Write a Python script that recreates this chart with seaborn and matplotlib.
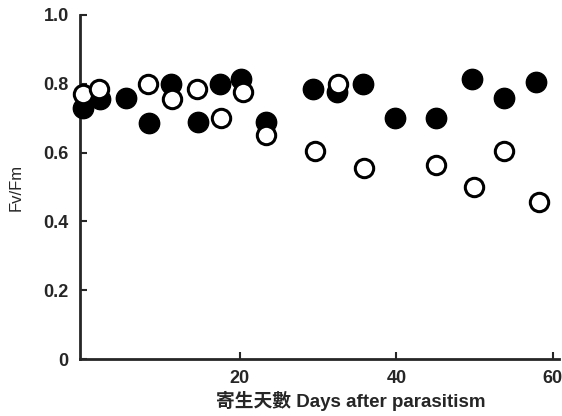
import matplotlib
matplotlib.use("Agg")
import numpy as np
import pandas as pd
import matplotlib.pyplot as plt
import seaborn as sns

# Filled circles
filled_days = [0.0, 2.1, 5.4, 8.4, 11.2, 14.6, 17.4, 20.2, 23.4, 29.4, 32.4, 35.7,
               39.8, 45.0, 49.7, 53.7, 57.9]
filled_fvfm = [0.73, 0.755, 0.76, 0.685, 0.80, 0.69, 0.80, 0.815, 0.69, 0.785, 0.775,
               0.80, 0.70, 0.70, 0.815, 0.76, 0.805]

# Open circles
open_days = [0.0, 2.0, 8.2, 11.3, 14.5, 17.6, 20.4, 23.4, 29.6, 32.5, 35.8, 45.0,
             49.9, 53.7, 58.2]
open_fvfm = [0.77, 0.785, 0.80, 0.755, 0.785, 0.70, 0.775, 0.65, 0.605, 0.80, 0.555,
             0.565, 0.50, 0.605, 0.455]

y_ticks = [0, 0.2, 0.4, 0.6, 0.8, 1.0]
y_ticklabels = ["0", "0.2", "0.4", "0.6", "0.8", "1.0"]
x_ticks = [20, 40, 60]

sns.set_style("ticks")
plt.rcParams["font.family"] = ["Liberation Sans", "Noto Sans CJK TC"]

fig = plt.figure(figsize=(5.62, 4.16), dpi=100)
ax = fig.add_axes([0.142, 0.137, 0.853, 0.827])

filled_df = pd.DataFrame({"day": filled_days, "fvfm": filled_fvfm})
open_df = pd.DataFrame({"day": open_days, "fvfm": open_fvfm})

sns.scatterplot(data=filled_df, x="day", y="fvfm", ax=ax, s=215, color="black",
                edgecolor="black", linewidth=1, zorder=3, clip_on=False)
sns.scatterplot(data=open_df, x="day", y="fvfm", ax=ax, s=175, color="white",
                edgecolor="black", linewidth=2.2, zorder=4, clip_on=False)

ax.set_xlim(-0.45, 60.8)
ax.set_ylim(0, 1.0)
ax.set_xticks(x_ticks)
ax.set_yticks(y_ticks)
ax.set_yticklabels(y_ticklabels)

for lab in ax.get_xticklabels() + ax.get_yticklabels():
    lab.set_fontweight("bold")
    lab.set_fontsize(13)

ax.tick_params(direction="in", length=5, width=1.5, pad=8)
sns.despine(ax=ax)
for side in ["left", "bottom"]:
    ax.spines[side].set_linewidth(2)

ax.set_xlabel("寄生天數 Days after parasitism", fontsize=13.5, fontweight="bold")
ax.xaxis.set_label_coords(0.566, -0.093)
ax.set_ylabel("Fv/Fm", fontsize=12, labelpad=14)

fig.savefig("out.png", dpi=100)
